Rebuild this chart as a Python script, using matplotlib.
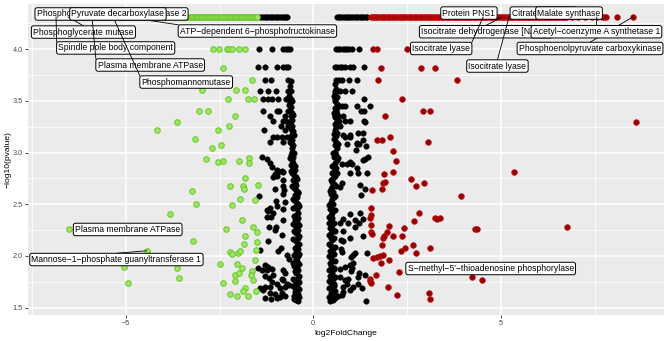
import matplotlib.pyplot as plt
from matplotlib.ticker import FormatStrFormatter

plt.rcParams['font.family'] = ['Liberation Sans', 'DejaVu Sans']

# ---- data: log2FoldChange / -log10(pvalue) ----
TOP_Y = 4.313  # genes sitting on the top row

top_down_x = [-6.84, -6.80, -6.75, -6.70, -6.66, -6.61, -6.56, -6.52, -6.47, -6.42,
              -6.38, -6.33, -6.29, -6.24, -6.19, -6.15, -6.10, -6.05, -6.01, -5.96,
              -5.92, -5.87, -5.82, -5.78, -5.73, -5.68, -5.64, -5.59, -5.55, -5.50,
              -5.45, -5.41, -5.36, -5.31, -5.27, -5.22, -5.18, -5.13, -5.08, -5.04,
              -4.99, -4.94, -4.90, -4.85, -4.81, -4.76, -4.71, -4.67, -4.62, -4.57,
              -4.53, -4.48, -4.44, -4.39, -4.34, -4.30, -4.25, -4.20, -4.16, -4.11,
              -4.07, -4.02, -3.97, -3.93, -3.88, -3.83, -3.79, -3.74, -3.70, -3.65,
              -3.60, -3.56, -3.51, -3.46, -3.42, -3.37, -3.33, -3.28, -3.23, -3.19,
              -3.14, -3.09, -3.05, -3.00, -2.96, -2.91, -2.86, -2.82, -2.77, -2.72,
              -2.68, -2.63, -2.59, -2.54, -2.49, -2.45, -2.40, -2.35, -2.31, -2.26,
              -2.22, -2.17, -2.12, -2.08, -2.03, -1.98, -1.94, -1.89, -1.85, -1.80,
              -1.75, -1.71, -1.66, -1.61, -1.57, -1.53, -1.49]
top_ns_x = [-1.41, -1.36, -1.32, -1.27, -1.23, -1.18, -1.14, -1.09, -1.05, -1.00,
            -0.96, -0.91, -0.87, -0.82, -0.78, -0.73, -0.69,
            0.63, 0.68, 0.72, 0.77, 0.81, 0.86, 0.90, 0.95, 0.99, 1.04, 1.08,
            1.13, 1.17, 1.22, 1.26, 1.31, 1.35, 1.40, 1.44]
top_up_x = [1.53, 1.58, 1.62, 1.67, 1.71, 1.76, 1.80, 1.85, 1.89, 1.94, 1.98, 2.03,
            2.07, 2.12, 2.16, 2.21, 2.25, 2.30, 2.34, 2.39, 2.43, 2.48, 2.52, 2.57,
            2.61, 2.66, 2.70, 2.75, 2.79, 2.84, 2.88, 2.93, 2.97, 3.02, 3.06, 3.11,
            3.15, 3.20, 3.24, 3.29, 3.33, 3.38, 3.42, 3.47, 3.51, 3.56, 3.60, 3.65,
            3.69, 3.74, 3.78, 3.83, 3.87, 3.92, 3.96, 4.01, 4.05, 4.10, 4.14, 4.19,
            4.23, 4.28, 4.32, 4.37, 4.41, 4.46, 4.50, 4.55, 4.59, 4.64, 4.68, 4.73,
            4.77, 4.82, 4.86, 4.91, 4.95, 5.00, 5.04, 5.09, 5.13, 5.18, 5.22, 5.27,
            5.31, 5.36, 5.40, 5.45, 5.49, 5.54, 5.58, 5.63, 5.67, 5.72, 5.76, 5.81,
            5.85, 5.90, 5.94, 5.99, 6.03, 6.08, 6.12, 6.17, 6.21, 6.26, 6.30, 6.35,
            6.39, 6.44, 6.48, 6.53, 6.57, 6.62, 6.66, 6.71, 6.75, 6.90,
            7.06, 7.25, 7.43, 7.56, 7.70, 7.76, 7.80, 8.09, 8.52]

down_x = [-2.67, -2.52, -2.30, -2.24, -2.16, -1.98, -1.82, -2.42, -1.64, -2.98, -2.06, -1.82,
          -2.28, -1.73, -1.58, -3.05, -2.82, -2.09, -3.63, -2.24, -4.18, -2.55, -3.15, -2.46,
          -2.71, -2.86, -2.53, -2.42, -1.98, -1.71, -1.71, -1.82, -3.23, -2.23, -1.87, -1.86,
          -1.48, -1.96, -1.55, -3.14, -2.16, -3.82, -1.89, -2.33, -6.51, -1.60, -1.49, -1.81,
          -3.20, -1.86, -1.51, -4.44, -2.22, -2.16, -2.01, -1.96, -1.52, -1.55, -2.49, -2.03,
          -5.05, -3.63, -1.89, -1.63, -2.09, -1.66, -1.99, -3.58, -1.61, -2.10, -4.93, -2.42,
          -1.83, -1.87, -1.54, -2.22, -2.03, -1.73]
down_y = [4.00, 4.00, 4.00, 4.00, 4.00, 4.00, 4.00, 3.82, 3.70, 3.61, 3.61, 3.61,
          3.52, 3.52, 3.52, 3.40, 3.40, 3.35, 3.30, 3.26, 3.22, 3.22, 3.13, 3.07,
          3.04, 2.94, 2.91, 2.92, 2.92, 2.95, 2.90, 2.75, 2.63, 2.68, 2.68, 2.65,
          2.69, 2.55, 2.54, 2.50, 2.49, 2.41, 2.35, 2.26, 2.26, 2.28, 2.23, 2.19,
          2.14, 2.12, 2.13, 2.05, 2.04, 2.02, 2.03, 2.05, 2.06, 1.96, 1.92, 1.92,
          1.89, 1.88, 1.88, 1.85, 1.82, 1.82, 1.83, 1.79, 1.77, 1.76, 1.74, 1.74,
          1.69, 1.66, 1.66, 1.63, 1.61, 1.61]

up_x = [1.60, 1.71, 2.51, 1.80, 2.86, 3.25, 1.73, 3.82, 2.36, 1.90, 2.93, 3.11, 8.60,
        1.69, 1.84, 2.05, 3.07, 2.13, 2.20, 1.89, 2.12, 5.36, 1.87, 1.91, 2.60, 2.73,
        2.95, 1.57, 1.82, 3.94, 1.54, 1.54, 2.82, 1.52, 2.68, 3.25, 3.29, 3.38, 1.54,
        2.02, 2.43, 4.31, 4.36, 6.76, 1.55, 1.57, 1.97, 1.87, 1.89, 2.13, 2.36, 2.67,
        1.83, 2.45, 2.33, 3.11, 2.74, 1.58, 1.69, 1.78, 1.87, 2.02, 1.81, 2.29, 1.66,
        1.51, 1.52, 1.53, 4.24, 4.50, 1.98, 2.22, 3.09, 3.11]
up_y = [4.00, 4.00, 4.00, 3.82, 3.82, 3.82, 3.70, 3.70, 3.52, 3.35, 3.40, 3.40, 3.30,
        3.12, 3.12, 3.15, 3.10, 3.02, 2.92, 2.79, 2.81, 2.81, 2.71, 2.72, 2.74, 2.68,
        2.71, 2.64, 2.65, 2.58, 2.46, 2.40, 2.42, 2.37, 2.34, 2.37, 2.36, 2.37, 2.30,
        2.29, 2.27, 2.26, 2.26, 2.28, 2.23, 2.21, 2.23, 2.17, 2.19, 2.19, 2.19, 2.11,
        2.11, 2.08, 2.05, 2.08, 2.03, 1.98, 1.99, 2.00, 2.01, 1.96, 1.93, 1.84, 1.82,
        1.78, 1.76, 1.74, 1.80, 1.77, 1.70, 1.62, 1.64, 1.58]

# not significant: scattered points left of zero
ns_left_x = [-1.45, -1.11, -0.80, -0.74, -0.68, -0.63, -1.47, -1.29, -0.97, -0.82, -0.74, -0.68,
             -1.29, -1.14, -0.67, -1.42, -1.20, -0.99, -0.67, -1.35, -1.20, -1.11, -0.93, -0.74,
             -0.67, -1.33, -0.98, -0.91, -0.67, -1.15, -0.75, -1.07, -0.80, -0.73, -0.86, -0.67,
             -1.31, -0.75, -1.07, -0.98, -0.84, -0.69, -1.15, -0.80,
             -1.38, -1.24, -1.15, -1.11, -0.96, -0.84, -0.93, -0.80, -1.02, -0.98, -1.07, -0.80,
             -0.80, -0.77, -0.80, -1.45, -1.02, -0.99, -0.75, -0.98, -0.82, -1.15, -1.24, -1.20,
             -1.07, -1.23, -1.12, -0.80, -1.17, -0.99, -1.02, -0.84, -1.20, -1.42, -0.87, -0.93,
             -0.71, -0.64, -1.29, -1.20, -1.47, -1.38, -1.24, -1.11, -0.80, -0.75, -1.29, -1.17,
             -1.07, -0.84, -1.11, -0.98, -0.80, -0.71, -0.64, -1.29, -1.15, -1.42, -1.35, -0.89,
             -0.75, -1.15, -1.02, -0.84, -1.29, -1.14, -0.98, -0.89, -0.75]
ns_left_y = [4.00, 4.00, 4.00, 4.00, 4.00, 4.00, 3.83, 3.83, 3.83, 3.83, 3.83, 3.83,
             3.70, 3.70, 3.70, 3.60, 3.60, 3.60, 3.60, 3.52, 3.52, 3.52, 3.52, 3.52,
             3.52, 3.40, 3.40, 3.40, 3.40, 3.35, 3.35, 3.31, 3.31, 3.31, 3.26, 3.26,
             3.22, 3.22, 3.15, 3.15, 3.15, 3.15, 3.10, 3.10,
             2.96, 2.94, 2.90, 2.86, 2.83, 2.82, 2.81, 2.81, 2.79, 2.77, 2.76, 2.73,
             2.68, 2.64, 2.60, 2.58, 2.65, 2.53, 2.52, 2.48, 2.45, 2.46, 2.44, 2.43,
             2.42, 2.38, 2.38, 2.35, 2.28, 2.28, 2.25, 2.20, 2.14, 2.06, 2.08, 2.05,
             2.01, 1.97, 1.91, 1.89, 1.88, 1.86, 1.86, 1.87, 1.86, 1.83, 1.81, 1.79,
             1.82, 1.78, 1.75, 1.73, 1.77, 1.73, 1.72, 1.70, 1.70, 1.69, 1.67, 1.69,
             1.70, 1.64, 1.63, 1.64, 1.59, 1.58, 1.59, 1.60, 1.61]

# not significant: dense column just left of zero
col_left_x = [-0.40, -0.47, -0.38, -0.52, -0.41, -0.45, -0.38, -0.50, -0.43, -0.39, -0.48, -0.42,
              -0.37, -0.46, -0.40, -0.44, -0.51, -0.39, -0.43, -0.47, -0.41, -0.38, -0.45, -0.40,
              -0.43, -0.39, -0.46, -0.42, -0.38, -0.44, -0.49, -0.41, -0.45, -0.39, -0.43, -0.48,
              -0.42, -0.46, -0.40, -0.44, -0.49, -0.42, -0.46, -0.51, -0.44, -0.48, -0.42, -0.47,
              -0.52, -0.45, -0.49, -0.54, -0.47, -0.51, -0.56, -0.50, -0.55, -0.59, -0.53, -0.57,
              -0.55, -0.60, -0.56, -0.58, -0.54, -0.60, -0.56, -0.61, -0.57, -0.55, -0.60, -0.58,
              -0.62, -0.56, -0.60, -0.58, -0.63, -0.59, -0.62, -0.60, -0.64, -0.60, -0.63, -0.59,
              -0.52, -0.50, -0.55, -0.53, -0.50, -0.54, -0.52, -0.50, -0.53, -0.51, -0.54, -0.52,
              -0.55, -0.38, -0.53, -0.40, -0.57, -0.43, -0.60, -0.48, -0.62, -0.52, -0.63, -0.51,
              -0.64, -0.55, -0.66, -0.56]
col_left_y = [1.56, 1.57, 1.60, 1.61, 1.63, 1.66, 1.68, 1.69, 1.72, 1.75, 1.76, 1.79,
              1.81, 1.83, 1.86, 1.88, 1.90, 1.92, 1.95, 1.97, 2.00, 2.02, 2.04, 2.07,
              2.10, 2.12, 2.14, 2.17, 2.19, 2.21, 2.23, 2.25, 2.28, 2.30, 2.33, 2.35,
              2.37, 2.40, 2.42, 2.45, 2.47, 2.50, 2.52, 2.54, 2.57, 2.59, 2.62, 2.64,
              2.66, 2.69, 2.71, 2.73, 2.76, 2.78, 2.80, 2.83, 2.85, 2.88, 2.90, 2.93,
              2.96, 2.98, 3.01, 3.04, 3.07, 3.09, 3.12, 3.15, 3.18, 3.21, 3.23, 3.26,
              3.29, 3.32, 3.35, 3.38, 3.40, 3.44, 3.48, 3.52, 3.55, 3.60, 3.64, 3.69,
              1.58, 1.65, 1.71, 1.78, 1.85, 1.93, 2.01, 2.08, 2.16, 2.24, 2.31, 2.39,
              2.46, 2.48, 2.55, 2.61, 2.68, 2.74, 2.82, 2.87, 2.95, 3.00, 3.10, 3.17,
              3.30, 3.36, 3.46, 3.50]

# not significant: dense column just right of zero
col_right_x = [0.44, 0.52, 0.42, 0.56, 0.46, 0.50, 0.43, 0.55, 0.47, 0.42, 0.52, 0.45,
               0.49, 0.43, 0.54, 0.47, 0.44, 0.51, 0.46, 0.42, 0.49, 0.45, 0.53, 0.47,
               0.43, 0.50, 0.46, 0.42, 0.48, 0.52, 0.45, 0.49, 0.43, 0.47, 0.51, 0.46,
               0.50, 0.44, 0.48, 0.53, 0.46, 0.50, 0.55, 0.48, 0.52, 0.47, 0.51, 0.56,
               0.49, 0.53, 0.58, 0.51, 0.55, 0.60, 0.54, 0.58, 0.62, 0.56, 0.60, 0.57,
               0.62, 0.58, 0.61, 0.56, 0.60, 0.63, 0.58, 0.61, 0.57, 0.62, 0.59, 0.64,
               0.60, 0.57, 0.62, 0.58, 0.63, 0.59, 0.61, 0.58,
               0.56, 0.58, 0.54, 0.57, 0.55, 0.58, 0.55, 0.57, 0.54, 0.57, 0.55, 0.41,
               0.57, 0.43, 0.58, 0.44, 0.60, 0.46, 0.63, 0.50, 0.65, 0.53, 0.66, 0.55,
               0.67, 0.56, 0.68, 0.55]
col_right_y = [1.56, 1.57, 1.60, 1.62, 1.64, 1.67, 1.69, 1.71, 1.74, 1.76, 1.78, 1.81,
               1.83, 1.86, 1.88, 1.90, 1.93, 1.95, 1.98, 2.00, 2.03, 2.05, 2.07, 2.10,
               2.12, 2.15, 2.17, 2.20, 2.22, 2.25, 2.27, 2.30, 2.32, 2.35, 2.37, 2.40,
               2.42, 2.45, 2.47, 2.50, 2.52, 2.55, 2.57, 2.60, 2.62, 2.65, 2.67, 2.70,
               2.72, 2.75, 2.77, 2.80, 2.82, 2.85, 2.88, 2.90, 2.93, 2.96, 2.98, 3.01,
               3.04, 3.07, 3.10, 3.13, 3.16, 3.19, 3.22, 3.25, 3.28, 3.31, 3.34, 3.37,
               3.40, 3.43, 3.47, 3.50, 3.54, 3.58, 3.62, 3.66,
               1.59, 1.66, 1.73, 1.80, 1.87, 1.95, 2.02, 2.09, 2.17, 2.24, 2.32, 2.38,
               2.44, 2.49, 2.58, 2.63, 2.68, 2.73, 2.80, 2.87, 2.95, 3.00, 3.08, 3.18,
               3.28, 3.38, 3.45, 3.55]

# not significant: scattered points right of zero
ns_right_x = [0.60, 0.66, 0.72, 0.78, 0.84, 0.90, 0.96, 1.02, 1.23,
              0.58, 0.64, 0.70, 0.76, 0.84, 0.98, 1.07, 1.35,
              0.61, 0.68, 0.76, 0.95, 1.17, 0.58, 0.64, 0.70, 0.84, 1.02, 0.58, 1.36,
              0.69, 0.76, 0.84, 1.17, 1.51, 0.61, 1.26, 1.35, 0.58, 0.67, 0.80,
              0.69, 0.84, 0.98, 1.36, 0.71, 0.58, 1.33, 0.84, 0.98, 1.33, 0.89, 1.17, 1.23,
              1.14, 1.38, 1.47, 0.76, 0.89, 1.02, 1.17, 0.98, 1.42, 1.20,
              0.98, 1.32, 1.41, 1.16, 1.20, 0.80, 0.98, 1.38,
              1.25, 1.38, 1.27, 0.71, 0.76, 0.98, 0.80, 0.71, 1.11,
              1.25, 1.11, 1.23, 1.33, 0.93, 0.80, 0.98, 1.33, 0.73, 0.80,
              0.74, 0.77, 1.00, 1.07, 1.11, 1.42, 1.07, 0.98,
              0.71, 0.84, 1.02, 1.00, 1.23, 1.38, 1.20, 0.71, 0.84, 0.93,
              0.89, 0.98, 0.80, 0.80, 1.07, 1.20, 1.29, 0.67, 0.76, 1.40, 0.58]
ns_right_y = [4.00, 4.00, 4.00, 4.00, 4.00, 4.00, 4.00, 4.00, 4.00,
              3.83, 3.83, 3.83, 3.83, 3.83, 3.83, 3.83, 3.83,
              3.70, 3.70, 3.70, 3.70, 3.70, 3.60, 3.60, 3.60, 3.60, 3.60, 3.52, 3.52,
              3.45, 3.45, 3.45, 3.45, 3.45, 3.40, 3.40, 3.40, 3.35, 3.35, 3.35,
              3.31, 3.31, 3.31, 3.31, 3.26, 3.19, 3.19, 3.15, 3.15, 3.12, 3.08, 3.08, 3.08,
              3.03, 2.94, 2.96, 2.89, 2.89, 2.89, 2.85, 2.80, 2.80, 2.80,
              2.91, 2.93, 3.06, 3.09, 3.19, 3.17, 3.17, 3.30,
              2.69, 2.65, 2.59, 2.67, 2.71, 2.41, 2.36, 2.32, 2.28,
              2.42, 2.35, 2.32, 2.36, 2.32, 2.24, 2.17, 2.19, 2.15, 2.14,
              2.07, 2.04, 1.99, 2.01, 2.03, 2.03, 1.93, 1.91,
              1.87, 1.89, 1.88, 1.85, 1.83, 1.82, 1.80, 1.80, 1.77, 1.78,
              1.73, 1.67, 1.65, 1.70, 1.70, 1.73, 1.69, 1.61, 1.62, 1.56, 1.59]

# labelled genes: text, gene position
label_names = ['Phosphoenolpyruvate carboxykinase 2', 'Phosphoglycerate mutase',
               'Spindle pole body component', 'Plasma membrane ATPase',
               'ATP\u2212dependent 6\u2212phosphofructokinase', 'Phosphomannomutase',
               'Pyruvate decarboxylase', 'Plasma membrane ATPase',
               'Mannose\u22121\u2212phosphate guanyltransferase 1',
               'Citrate synthase', 'Malate synthase', 'Isocitrate dehydrogenase [NADP]',
               'Phosphoenolpyruvate carboxykinase', 'Acetyl\u2212coenzyme A synthetase 1',
               'Protein PNS1', 'Isocitrate lyase', 'Isocitrate lyase',
               "S\u2212methyl\u22125'\u2212thioadenosine phosphorylase"]
label_gene_x = [-6.22, -6.54, -6.86, -5.90, -5.00, -5.34, -5.69, -6.51, -4.44,
                5.78, 6.58, 5.03, 8.52, 7.56, 4.18, 4.53, 5.22, 2.29]
label_gene_y = [TOP_Y, TOP_Y, TOP_Y, TOP_Y, TOP_Y, TOP_Y, TOP_Y, 2.26, 2.05,
                TOP_Y, TOP_Y, TOP_Y, TOP_Y, TOP_Y, TOP_Y, TOP_Y, TOP_Y, 1.84]
# where the repelled labels ended up
label_pos_x = [-5.38, -6.13, -5.27, -4.35, -1.49, -3.39, -5.21, -4.95, -5.25,
               6.13, 6.82, 4.60, 7.38, 7.55, 4.15, 3.41, 4.91, 4.73]
label_pos_y = [4.342, 4.167, 4.013, 3.848, 4.177, 3.683, 4.342, 2.256, 1.965,
               4.351, 4.351, 4.170, 4.008, 4.170, 4.351, 4.008, 3.838, 1.878]

# ---- plot ----
fig = plt.figure(figsize=(6.69, 3.41), dpi=100)
ax = fig.add_axes([28 / 669, 1 - 315 / 341, 636 / 669, 311 / 341])
ax.set_facecolor('#EBEBEB')
for s in ax.spines.values():
    s.set_visible(False)

ax.set_xlim(-7.608, 9.352)
ax.set_ylim(1.428, 4.4385)
ax.set_xticks([-5, 0, 5])
ax.set_xticks([-7.5, -2.5, 2.5, 7.5], minor=True)
ax.set_yticks([1.5, 2.0, 2.5, 3.0, 3.5, 4.0])
ax.set_yticks([1.75, 2.25, 2.75, 3.25, 3.75, 4.25], minor=True)
ax.yaxis.set_major_formatter(FormatStrFormatter('%.1f'))
ax.grid(which='major', color='white', lw=1.1)
ax.grid(which='minor', color='white', lw=0.55)
ax.set_axisbelow(True)
ax.tick_params(which='minor', length=0)
ax.tick_params(which='major', length=2.2, width=0.6, color='#333333',
               labelsize=5.3, labelcolor='#4D4D4D', pad=1.5)
ax.set_xlabel('log2FoldChange', fontsize=6.1, labelpad=2)
ax.set_ylabel('\u2212log10(pvalue)', fontsize=6.1, labelpad=1)

ms = 16
ns_kw = dict(s=ms, c='black', edgecolors='black', linewidths=0.3, zorder=3)
down_kw = dict(s=ms, c='#A2E463', edgecolors='#62C62A', linewidths=0.7, zorder=3)
up_kw = dict(s=ms, c='#8B0000', edgecolors='#CC1010', linewidths=0.6, zorder=3)

ax.scatter(ns_left_x, ns_left_y, **ns_kw)
ax.scatter(col_left_x, col_left_y, **ns_kw)
ax.scatter(ns_right_x, ns_right_y, **ns_kw)
ax.scatter(col_right_x, col_right_y, **ns_kw)
ax.scatter(top_ns_x, [TOP_Y] * len(top_ns_x), **ns_kw)
ax.scatter(down_x, down_y, **down_kw)
ax.scatter(top_down_x, [TOP_Y] * len(top_down_x), **down_kw)
ax.scatter(up_x, up_y, **up_kw)
ax.scatter(top_up_x, [TOP_Y] * len(top_up_x), **up_kw)

# repel-style labels: box first, then a segment from the box to the gene
texts = []
for i, name in enumerate(label_names):
    t = ax.text(label_pos_x[i], label_pos_y[i], name, ha='center', va='center',
                fontsize=6.2, color='black', zorder=20 + 2 * i,
                bbox=dict(boxstyle='round,pad=0.2,rounding_size=0.25',
                          fc='white', ec='black', lw=0.7))
    texts.append(t)

fig.canvas.draw()
inv = ax.transData.inverted()
for i, t in enumerate(texts):
    bb = t.get_bbox_patch().get_window_extent()
    gx, gy = ax.transData.transform((label_gene_x[i], label_gene_y[i]))
    inside_x = bb.x0 <= gx <= bb.x1
    inside_y = bb.y0 <= gy <= bb.y1
    if inside_x and inside_y:
        continue
    cx = (bb.x0 + bb.x1) / 2 if inside_x else (bb.x1 if gx > bb.x1 else bb.x0)
    cy = (bb.y0 + bb.y1) / 2 if inside_y else (bb.y1 if gy > bb.y1 else bb.y0)
    if ((cx - gx) ** 2 + (cy - gy) ** 2) ** 0.5 < 8:
        continue
    (sx, sy), (ex, ey) = inv.transform([(cx, cy), (gx, gy)])
    ax.plot([sx, ex], [sy, ey], color='black', lw=0.6, zorder=19 + 2 * i,
            clip_on=False)

fig.savefig('out.png', dpi=100)
